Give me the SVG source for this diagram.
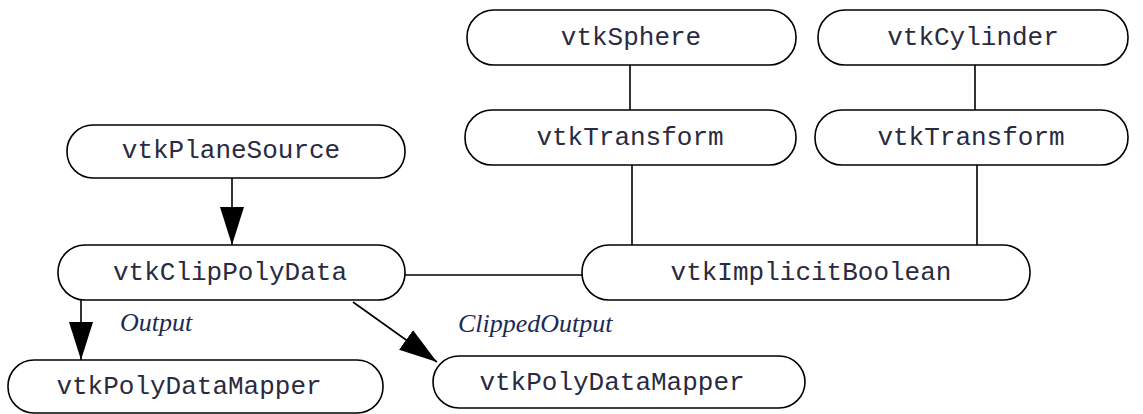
<svg xmlns="http://www.w3.org/2000/svg" width="1143" height="414" viewBox="0 0 1143 414">
<defs>
<style>
.n{fill:#fff;stroke:#000;stroke-width:1.6}
.t{font-family:"Liberation Mono",monospace;font-size:26px;fill:#2a2a40;text-anchor:middle}
.l{font-family:"Liberation Serif",serif;font-style:italic;font-size:26px;fill:#1c2a55}
.c{stroke:#000;stroke-width:1.6;fill:none}
</style>
<marker id="ah" markerUnits="userSpaceOnUse" markerWidth="38" markerHeight="24" refX="38" refY="12" orient="auto">
<path d="M0,0 L38,12 L0,24 z" fill="#000"/>
</marker>
</defs>
<rect width="1143" height="414" fill="#fff"/>
<g id="connectors">
<line class="c" x1="630" y1="65" x2="630" y2="110"/>
<line class="c" x1="975" y1="65" x2="975" y2="110"/>
<line class="c" x1="632" y1="165" x2="632" y2="245"/>
<line class="c" x1="977" y1="165" x2="977" y2="245"/>
<line class="c" x1="405" y1="275" x2="582" y2="275"/>
<line class="c" x1="232" y1="178" x2="232" y2="245" marker-end="url(#ah)"/>
<line class="c" x1="81" y1="298" x2="81" y2="360" marker-end="url(#ah)"/>
<line class="c" x1="353" y1="302" x2="437" y2="362" marker-end="url(#ah)"/>
<text class="l" x="120" y="331">Output</text>
<text class="l" x="458" y="332">ClippedOutput</text>
</g>
<g id="vtkSphere"><rect class="n" x="467" y="10" width="329" height="55" rx="27"/><text class="t" x="631" y="45">vtkSphere</text></g>
<g id="vtkCylinder"><rect class="n" x="818" y="10" width="310" height="55" rx="27"/><text class="t" x="973" y="45">vtkCylinder</text></g>
<g id="vtkTransform1"><rect class="n" x="465" y="110" width="331" height="55" rx="27"/><text class="t" x="630" y="145">vtkTransform</text></g>
<g id="vtkTransform2"><rect class="n" x="815" y="110" width="313" height="55" rx="27"/><text class="t" x="971" y="145">vtkTransform</text></g>
<g id="vtkPlaneSource"><rect class="n" x="67" y="125" width="338" height="53" rx="26"/><text class="t" x="231" y="158">vtkPlaneSource</text></g>
<g id="vtkClipPolyData"><rect class="n" x="58" y="245" width="347" height="55" rx="27"/><text class="t" x="230" y="280">vtkClipPolyData</text></g>
<g id="vtkImplicitBoolean"><rect class="n" x="582" y="245" width="448" height="55" rx="27"/><text class="t" x="811" y="280">vtkImplicitBoolean</text></g>
<g id="vtkPolyDataMapper1"><rect class="n" x="8" y="360" width="375" height="53" rx="26"/><text class="t" x="189" y="394">vtkPolyDataMapper</text></g>
<g id="vtkPolyDataMapper2"><rect class="n" x="433" y="356" width="372" height="52" rx="26"/><text class="t" x="612" y="390">vtkPolyDataMapper</text></g>
</svg>
